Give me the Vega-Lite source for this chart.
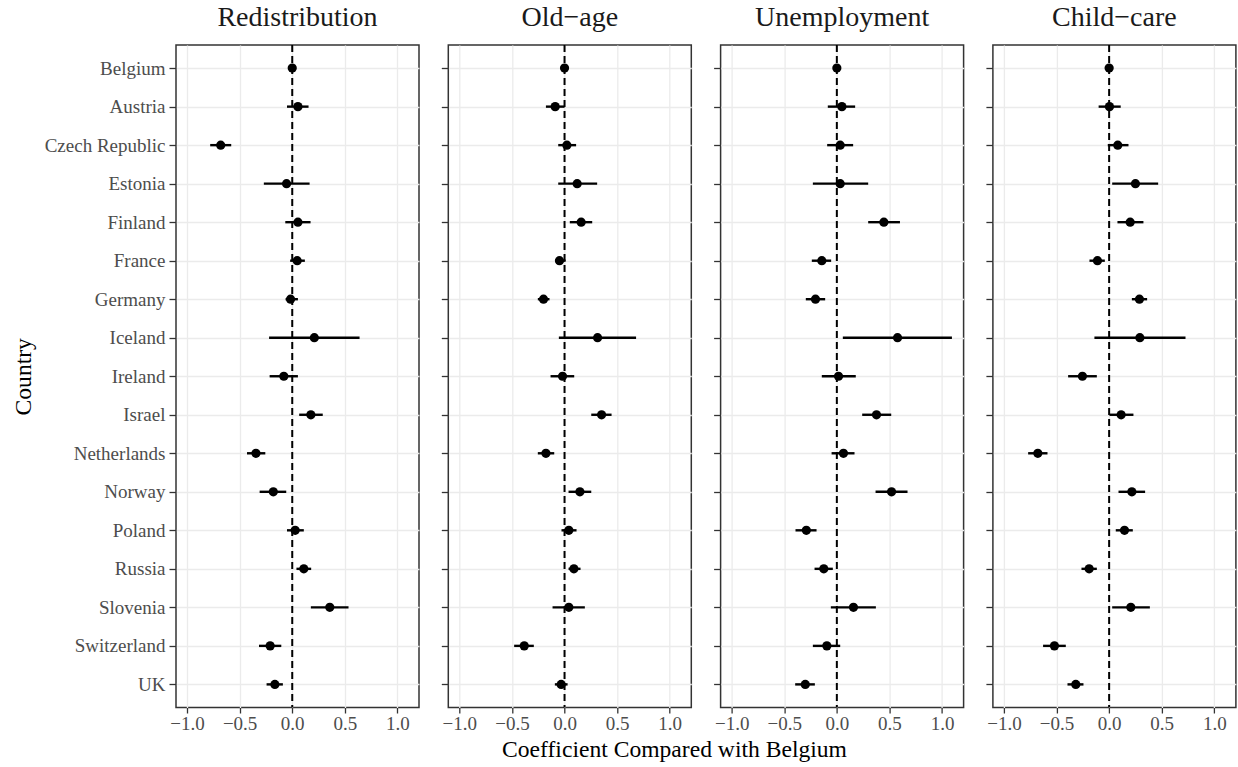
{
  "$schema": "https://vega.github.io/schema/vega-lite/v6.json",
  "autosize": {"type": "pad"},
  "padding": {"left": 10, "top": 3, "right": 0, "bottom": 0},
  "background": "white",
  "data": {"values": [
    {"panel":"Redistribution","country":"Belgium","est":0,"lo":0,"hi":0},
    {"panel":"Redistribution","country":"Austria","est":0.054,"lo":-0.05,"hi":0.155},
    {"panel":"Redistribution","country":"Czech Republic","est":-0.68,"lo":-0.78,"hi":-0.58},
    {"panel":"Redistribution","country":"Estonia","est":-0.054,"lo":-0.27,"hi":0.165},
    {"panel":"Redistribution","country":"Finland","est":0.054,"lo":-0.066,"hi":0.174},
    {"panel":"Redistribution","country":"France","est":0.047,"lo":-0.02,"hi":0.12},
    {"panel":"Redistribution","country":"Germany","est":-0.016,"lo":-0.063,"hi":0.054},
    {"panel":"Redistribution","country":"Iceland","est":0.21,"lo":-0.22,"hi":0.64},
    {"panel":"Redistribution","country":"Ireland","est":-0.08,"lo":-0.215,"hi":0.054},
    {"panel":"Redistribution","country":"Israel","est":0.177,"lo":0.066,"hi":0.29},
    {"panel":"Redistribution","country":"Netherlands","est":-0.345,"lo":-0.43,"hi":-0.256},
    {"panel":"Redistribution","country":"Norway","est":-0.18,"lo":-0.31,"hi":-0.057},
    {"panel":"Redistribution","country":"Poland","est":0.028,"lo":-0.05,"hi":0.11},
    {"panel":"Redistribution","country":"Russia","est":0.11,"lo":0.04,"hi":0.18},
    {"panel":"Redistribution","country":"Slovenia","est":0.357,"lo":0.177,"hi":0.535},
    {"panel":"Redistribution","country":"Switzerland","est":-0.21,"lo":-0.316,"hi":-0.104},
    {"panel":"Redistribution","country":"UK","est":-0.165,"lo":-0.244,"hi":-0.089},
    {"panel":"Old-age","country":"Belgium","est":0,"lo":0,"hi":0},
    {"panel":"Old-age","country":"Austria","est":-0.089,"lo":-0.177,"hi":0.0},
    {"panel":"Old-age","country":"Czech Republic","est":0.022,"lo":-0.06,"hi":0.11},
    {"panel":"Old-age","country":"Estonia","est":0.12,"lo":-0.06,"hi":0.31},
    {"panel":"Old-age","country":"Finland","est":0.158,"lo":0.05,"hi":0.263},
    {"panel":"Old-age","country":"France","est":-0.048,"lo":-0.09,"hi":0.01},
    {"panel":"Old-age","country":"Germany","est":-0.2,"lo":-0.254,"hi":-0.143},
    {"panel":"Old-age","country":"Iceland","est":0.314,"lo":-0.054,"hi":0.68},
    {"panel":"Old-age","country":"Ireland","est":-0.019,"lo":-0.133,"hi":0.092},
    {"panel":"Old-age","country":"Israel","est":0.352,"lo":0.254,"hi":0.447},
    {"panel":"Old-age","country":"Netherlands","est":-0.177,"lo":-0.254,"hi":-0.098},
    {"panel":"Old-age","country":"Norway","est":0.146,"lo":0.038,"hi":0.254},
    {"panel":"Old-age","country":"Poland","est":0.041,"lo":-0.029,"hi":0.114},
    {"panel":"Old-age","country":"Russia","est":0.089,"lo":0.038,"hi":0.152},
    {"panel":"Old-age","country":"Slovenia","est":0.041,"lo":-0.114,"hi":0.193},
    {"panel":"Old-age","country":"Switzerland","est":-0.383,"lo":-0.479,"hi":-0.292},
    {"panel":"Old-age","country":"UK","est":-0.032,"lo":-0.092,"hi":0.029},
    {"panel":"Unemployment","country":"Belgium","est":0,"lo":0,"hi":0},
    {"panel":"Unemployment","country":"Austria","est":0.048,"lo":-0.086,"hi":0.174},
    {"panel":"Unemployment","country":"Czech Republic","est":0.032,"lo":-0.092,"hi":0.155},
    {"panel":"Unemployment","country":"Estonia","est":0.032,"lo":-0.228,"hi":0.298},
    {"panel":"Unemployment","country":"Finland","est":0.447,"lo":0.298,"hi":0.6},
    {"panel":"Unemployment","country":"France","est":-0.143,"lo":-0.238,"hi":-0.054},
    {"panel":"Unemployment","country":"Germany","est":-0.203,"lo":-0.295,"hi":-0.111},
    {"panel":"Unemployment","country":"Iceland","est":0.577,"lo":0.057,"hi":1.094},
    {"panel":"Unemployment","country":"Ireland","est":0.016,"lo":-0.143,"hi":0.18},
    {"panel":"Unemployment","country":"Israel","est":0.377,"lo":0.241,"hi":0.517},
    {"panel":"Unemployment","country":"Netherlands","est":0.063,"lo":-0.05,"hi":0.168},
    {"panel":"Unemployment","country":"Norway","est":0.52,"lo":0.368,"hi":0.672},
    {"panel":"Unemployment","country":"Poland","est":-0.29,"lo":-0.393,"hi":-0.193},
    {"panel":"Unemployment","country":"Russia","est":-0.124,"lo":-0.212,"hi":-0.038},
    {"panel":"Unemployment","country":"Slovenia","est":0.158,"lo":-0.057,"hi":0.371},
    {"panel":"Unemployment","country":"Switzerland","est":-0.095,"lo":-0.228,"hi":0.032},
    {"panel":"Unemployment","country":"UK","est":-0.3,"lo":-0.396,"hi":-0.209},
    {"panel":"Child-care","country":"Belgium","est":0,"lo":0,"hi":0},
    {"panel":"Child-care","country":"Austria","est":0.003,"lo":-0.1,"hi":0.11},
    {"panel":"Child-care","country":"Czech Republic","est":0.082,"lo":-0.013,"hi":0.184},
    {"panel":"Child-care","country":"Estonia","est":0.25,"lo":0.029,"hi":0.466},
    {"panel":"Child-care","country":"Finland","est":0.2,"lo":0.079,"hi":0.326},
    {"panel":"Child-care","country":"France","est":-0.111,"lo":-0.187,"hi":-0.041},
    {"panel":"Child-care","country":"Germany","est":0.288,"lo":0.216,"hi":0.361},
    {"panel":"Child-care","country":"Iceland","est":0.292,"lo":-0.14,"hi":0.726},
    {"panel":"Child-care","country":"Ireland","est":-0.254,"lo":-0.39,"hi":-0.117},
    {"panel":"Child-care","country":"Israel","est":0.114,"lo":0.003,"hi":0.231},
    {"panel":"Child-care","country":"Netherlands","est":-0.678,"lo":-0.77,"hi":-0.586},
    {"panel":"Child-care","country":"Norway","est":0.216,"lo":0.089,"hi":0.342},
    {"panel":"Child-care","country":"Poland","est":0.146,"lo":0.063,"hi":0.225},
    {"panel":"Child-care","country":"Russia","est":-0.19,"lo":-0.263,"hi":-0.117},
    {"panel":"Child-care","country":"Slovenia","est":0.206,"lo":0.029,"hi":0.387},
    {"panel":"Child-care","country":"Switzerland","est":-0.52,"lo":-0.628,"hi":-0.412},
    {"panel":"Child-care","country":"UK","est":-0.317,"lo":-0.396,"hi":-0.244}
  ]},
  "bounds": "flush",
  "spacing": 29.3,
  "hconcat": [
    {
      "width": 243, "height": 662.5,
      "title": {"text": "Redistribution"},
      "layer": [
        {"data": {"values": [{"ref": 0}]}, "mark": {"type": "rule", "strokeDash": [7, 4], "strokeWidth": 2, "color": "black"},
         "encoding": {"x": {"field": "ref", "type": "quantitative"}}},
        {"transform": [{"filter": "datum.panel == 'Redistribution'"}],
         "mark": {"type": "rule", "strokeWidth": 2.4, "color": "black"},
         "encoding": {
           "x": {"field": "lo", "type": "quantitative", "scale": {"domain": [-1.105, 1.205], "nice": false, "zero": false},
                 "axis": {"values": [-1,-0.75,-0.5,-0.25,0,0.25,0.5,0.75,1], "format": ".1f", "labelExpr": "datum.value % 0.5 == 0 ? datum.label : ''", "tickOpacity": {"condition": {"test": "datum.value % 0.5 != 0", "value": 0}, "value": 1}, "gridWidth": {"condition": {"test": "datum.value % 0.5 != 0", "value": 0.7}, "value": 1.3}, "title": null}},
           "x2": {"field": "hi"},
           "y": {"field": "country", "type": "ordinal", "scale": {"type": "point", "padding": 0.6, "domain": ["Belgium","Austria","Czech Republic","Estonia","Finland","France","Germany","Iceland","Ireland","Israel","Netherlands","Norway","Poland","Russia","Slovenia","Switzerland","UK"]},
                 "axis": {"title": "Country", "titleX": -146, "titleY": 331.25, "titleAngle": -90, "titleBaseline": "alphabetic", "titleAlign": "center", "titleFontSize": 23.6}}
         }},
        {"transform": [{"filter": "datum.panel == 'Redistribution'"}],
         "mark": {"type": "point", "filled": true, "size": 85, "color": "black", "opacity": 1},
         "encoding": {"x": {"field": "est", "type": "quantitative"}, "y": {"field": "country", "type": "ordinal"}}}
      ]
    },
    {
      "width": 243, "height": 662.5,
      "title": {"text": "Old−age"},
      "layer": [
        {"data": {"values": [{"ref": 0}]}, "mark": {"type": "rule", "strokeDash": [7, 4], "strokeWidth": 2, "color": "black"},
         "encoding": {"x": {"field": "ref", "type": "quantitative"}}},
        {"transform": [{"filter": "datum.panel == 'Old-age'"}],
         "mark": {"type": "rule", "strokeWidth": 2.4, "color": "black"},
         "encoding": {
           "x": {"field": "lo", "type": "quantitative", "scale": {"domain": [-1.105, 1.205], "nice": false, "zero": false},
                 "axis": {"values": [-1,-0.75,-0.5,-0.25,0,0.25,0.5,0.75,1], "format": ".1f", "labelExpr": "datum.value % 0.5 == 0 ? datum.label : ''", "tickOpacity": {"condition": {"test": "datum.value % 0.5 != 0", "value": 0}, "value": 1}, "gridWidth": {"condition": {"test": "datum.value % 0.5 != 0", "value": 0.7}, "value": 1.3},
                          "title": "Coefficient Compared with Belgium", "titleX": 225.7, "titleY": 49, "titleBaseline": "alphabetic", "titleAlign": "center", "titleFontSize": 23.6}},
           "x2": {"field": "hi"},
           "y": {"field": "country", "type": "ordinal", "scale": {"type": "point", "padding": 0.6, "domain": ["Belgium","Austria","Czech Republic","Estonia","Finland","France","Germany","Iceland","Ireland","Israel","Netherlands","Norway","Poland","Russia","Slovenia","Switzerland","UK"]},
                 "axis": {"title": null, "labels": false}}
         }},
        {"transform": [{"filter": "datum.panel == 'Old-age'"}],
         "mark": {"type": "point", "filled": true, "size": 85, "color": "black", "opacity": 1},
         "encoding": {"x": {"field": "est", "type": "quantitative"}, "y": {"field": "country", "type": "ordinal"}}}
      ]
    },
    {
      "width": 243, "height": 662.5,
      "title": {"text": "Unemployment"},
      "layer": [
        {"data": {"values": [{"ref": 0}]}, "mark": {"type": "rule", "strokeDash": [7, 4], "strokeWidth": 2, "color": "black"},
         "encoding": {"x": {"field": "ref", "type": "quantitative"}}},
        {"transform": [{"filter": "datum.panel == 'Unemployment'"}],
         "mark": {"type": "rule", "strokeWidth": 2.4, "color": "black"},
         "encoding": {
           "x": {"field": "lo", "type": "quantitative", "scale": {"domain": [-1.105, 1.205], "nice": false, "zero": false},
                 "axis": {"values": [-1,-0.75,-0.5,-0.25,0,0.25,0.5,0.75,1], "format": ".1f", "labelExpr": "datum.value % 0.5 == 0 ? datum.label : ''", "tickOpacity": {"condition": {"test": "datum.value % 0.5 != 0", "value": 0}, "value": 1}, "gridWidth": {"condition": {"test": "datum.value % 0.5 != 0", "value": 0.7}, "value": 1.3}, "title": null}},
           "x2": {"field": "hi"},
           "y": {"field": "country", "type": "ordinal", "scale": {"type": "point", "padding": 0.6, "domain": ["Belgium","Austria","Czech Republic","Estonia","Finland","France","Germany","Iceland","Ireland","Israel","Netherlands","Norway","Poland","Russia","Slovenia","Switzerland","UK"]},
                 "axis": {"title": null, "labels": false}}
         }},
        {"transform": [{"filter": "datum.panel == 'Unemployment'"}],
         "mark": {"type": "point", "filled": true, "size": 85, "color": "black", "opacity": 1},
         "encoding": {"x": {"field": "est", "type": "quantitative"}, "y": {"field": "country", "type": "ordinal"}}}
      ]
    },
    {
      "width": 243, "height": 662.5,
      "title": {"text": "Child−care"},
      "layer": [
        {"data": {"values": [{"ref": 0}]}, "mark": {"type": "rule", "strokeDash": [7, 4], "strokeWidth": 2, "color": "black"},
         "encoding": {"x": {"field": "ref", "type": "quantitative"}}},
        {"transform": [{"filter": "datum.panel == 'Child-care'"}],
         "mark": {"type": "rule", "strokeWidth": 2.4, "color": "black"},
         "encoding": {
           "x": {"field": "lo", "type": "quantitative", "scale": {"domain": [-1.105, 1.205], "nice": false, "zero": false},
                 "axis": {"values": [-1,-0.75,-0.5,-0.25,0,0.25,0.5,0.75,1], "format": ".1f", "labelExpr": "datum.value % 0.5 == 0 ? datum.label : ''", "tickOpacity": {"condition": {"test": "datum.value % 0.5 != 0", "value": 0}, "value": 1}, "gridWidth": {"condition": {"test": "datum.value % 0.5 != 0", "value": 0.7}, "value": 1.3}, "title": null}},
           "x2": {"field": "hi"},
           "y": {"field": "country", "type": "ordinal", "scale": {"type": "point", "padding": 0.6, "domain": ["Belgium","Austria","Czech Republic","Estonia","Finland","France","Germany","Iceland","Ireland","Israel","Netherlands","Norway","Poland","Russia","Slovenia","Switzerland","UK"]},
                 "axis": {"title": null, "labels": false}}
         }},
        {"transform": [{"filter": "datum.panel == 'Child-care'"}],
         "mark": {"type": "point", "filled": true, "size": 85, "color": "black", "opacity": 1},
         "encoding": {"x": {"field": "est", "type": "quantitative"}, "y": {"field": "country", "type": "ordinal"}}}
      ]
    }
  ],
  "config": {
    "font": "Liberation Serif",
    "view": {"stroke": "#333333", "strokeWidth": 1.5},
    "axis": {
      "labelFont": "Liberation Serif", "titleFont": "Liberation Serif",
      "labelFontSize": 19, "labelColor": "#4d4d4d",
      "titleFontWeight": "normal", "titleColor": "black",
      "tickColor": "#333333", "tickWidth": 1.3,
      "domain": false, "grid": true, "gridColor": "#ebebeb", "gridWidth": 1.3
    },
    "axisX": {"tickSize": 5.5, "labelPadding": 1.5},
    "axisY": {"tickSize": 7, "labelPadding": 4},
    "title": {"font": "Liberation Serif", "fontSize": 28, "fontWeight": "normal", "color": "#1a1a1a", "baseline": "alphabetic", "offset": 12, "anchor": "middle"}
  }
}
